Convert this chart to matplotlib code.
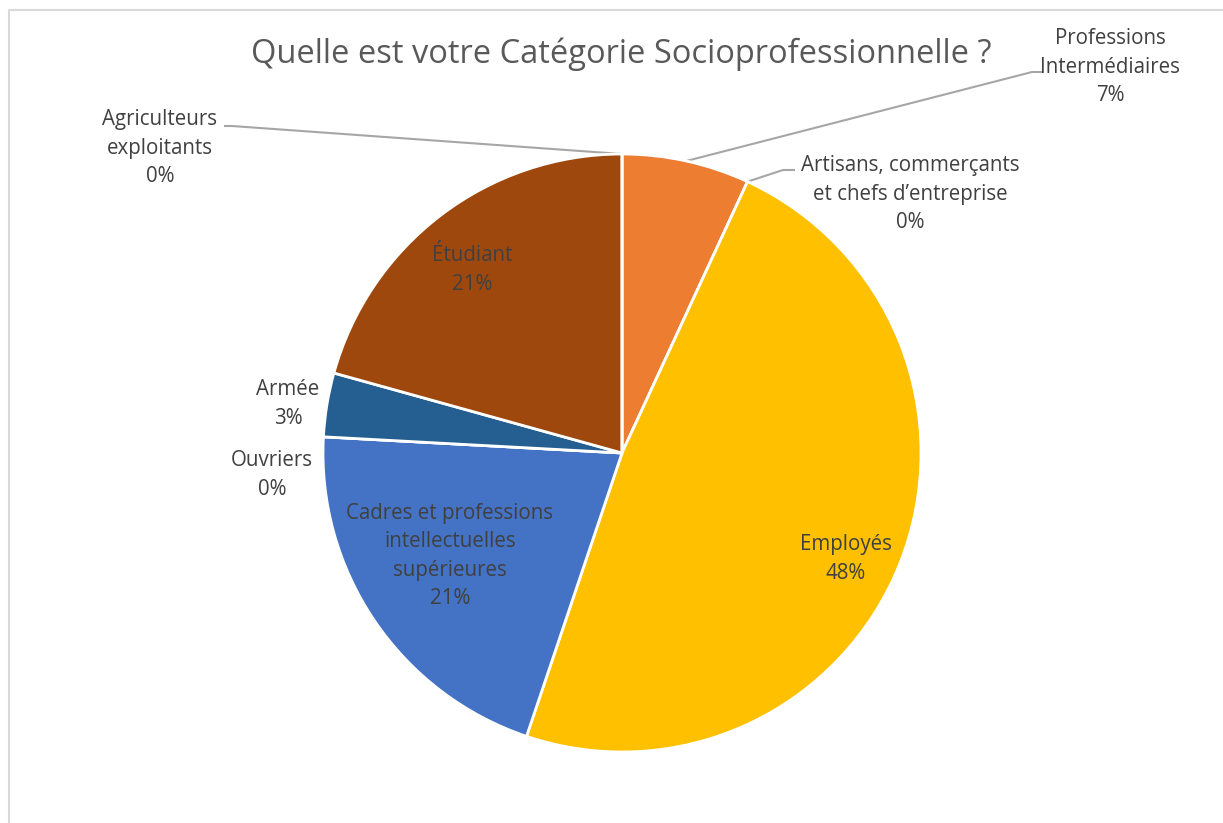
import numpy as np
import matplotlib.pyplot as plt
from matplotlib.lines import Line2D

# Data (counts of respondents, 29 in total)
categories = ["Professions\nIntermédiaires",
              "Artisans, commerçants\net chefs d’entreprise",
              "Employés",
              "Cadres et professions\nintellectuelles\nsupérieures",
              "Ouvriers",
              "Armée",
              "Étudiant",
              "Agriculteurs\nexploitants"]
counts = [2, 0, 14, 6, 0, 1, 6, 0]
colors = ["#ED7D31", "#A5A5A5", "#FFC000", "#4472C4",
          "#5B9BD5", "#255E91", "#9E480E", "#264478"]

W, H = 1223, 823
cx, cy, R = 622, H - 453, 299

plt.rcParams['font.family'] = ['Open Sans', 'DejaVu Sans']

fig = plt.figure(figsize=(W / 100, H / 100), dpi=100)
ax = fig.add_axes([0, 0, 1, 1])

wedges, _ = ax.pie(counts, colors=colors, startangle=90, counterclock=False,
                   center=(cx, cy), radius=R,
                   wedgeprops=dict(edgecolor='white', linewidth=2))
ax.set_xlim(0, W)
ax.set_ylim(0, H)
ax.axis('off')

total = sum(counts)
pcts = [f"{round(100 * c / total)}%" for c in counts]

# label placement (pixel coords, y from top), leader elbow + tail end or None
label_pos = {
    0: ((1110, 67), ((1032, 72), 1043)),
    1: ((910, 194), ((783, 170), 795)),
    2: ((846, 559), None),
    3: ((450, 556), None),
    4: ((272, 475), None),
    5: ((288, 404), None),
    6: ((472, 270), None),
    7: ((160, 148), ((232, 126), 224)),
}

txt_col = "#404040"
fs = 14.8
for i, (lab, pct) in enumerate(zip(categories, pcts)):
    (px, py), leader = label_pos[i]
    ax.text(px, H - py, f"{lab}\n{pct}", ha='center', va='center',
            fontsize=fs, color=txt_col, linespacing=1.47)
    if leader is not None:
        w = wedges[i]
        ang = np.deg2rad((w.theta1 + w.theta2) / 2)
        x0 = cx + R * np.cos(ang)
        y0 = cy + R * np.sin(ang)
        (ex, ey), tail = leader
        ax.plot([x0, ex, tail], [y0, H - ey, H - ey], color="#A6A6A6", lw=1.5,
                solid_capstyle='butt', zorder=0)

ax.text(621, H - 54, "Quelle est votre Catégorie Socioprofessionnelle ?",
        ha='center', va='center', fontsize=23.5, color="#595959")

# chart frame (left and top edges visible)
fig.add_artist(Line2D([9 / W, 9 / W, 1], [0, 1 - 10 / H, 1 - 10 / H],
                      transform=fig.transFigure, color="#D9D9D9", lw=1.5))

plt.savefig("out.png", dpi=100)
plt.close()
